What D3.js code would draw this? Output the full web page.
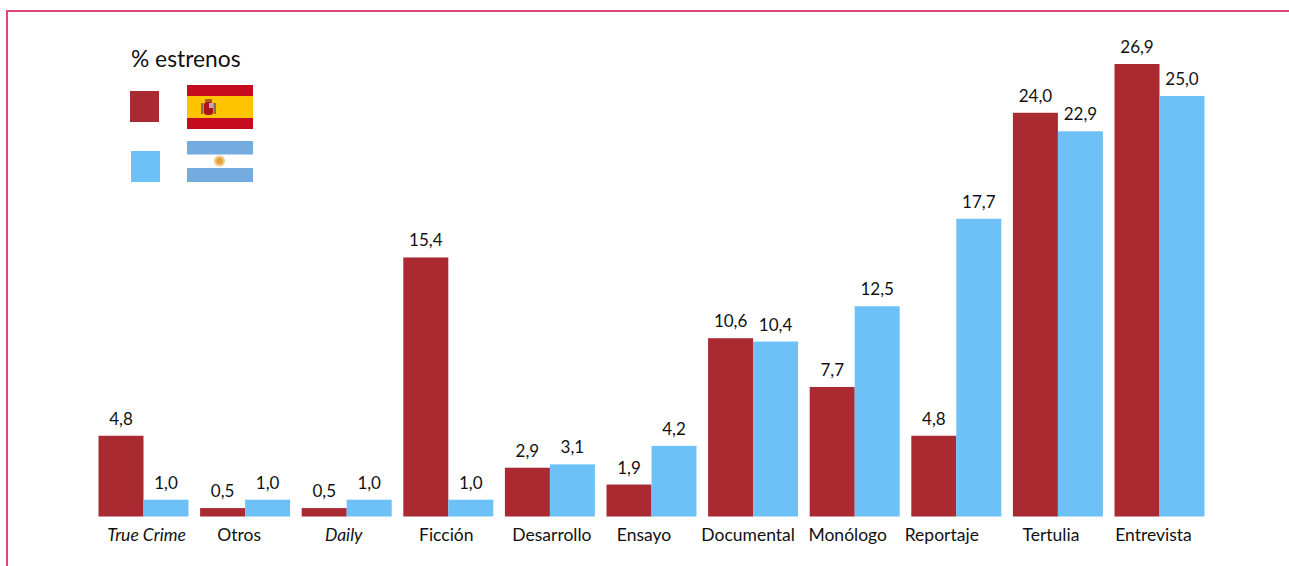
<!DOCTYPE html>
<html>
<head>
<meta charset="utf-8">
<script src="https://cdn.jsdelivr.net/npm/d3@7"></script>
<style>
  html, body { margin: 0; padding: 0; background: #fff; overflow: hidden; }
  svg { display: block; }
  text { font-family: Lato, "Open Sans", sans-serif; fill: #111; }
</style>
</head>
<body>
<svg id="chart" width="1289" height="566"></svg>
<script>
const categories = ['True Crime','Otros','Daily','Ficción','Desarrollo','Ensayo','Documental','Monólogo','Reportaje','Tertulia','Entrevista'];
const italicCats = ['True Crime','Daily'];
const spain     = [4.8,0.5,0.5,15.4,2.9,1.9,10.6,7.7,4.8,24.0,26.9];
const argentina = [1.0,1.0,1.0,1.0,3.1,4.2,10.4,12.5,17.7,22.9,25.0];
// the category labels sit a little off the group centre in the original
const labelShift = [3,-6,-3,-2,2,-7.5,-5,-7,-14.5,-7,-6];

const RED = '#a92a30', BLUE = '#6ec1f7';
const svg = d3.select('#chart');

const defs = svg.append('defs');
defs.append('filter').attr('id', 'soft').append('feGaussianBlur').attr('stdDeviation', 0.5);

// frame, open to the right and bottom of the window
svg.append('path').attr('d', 'M7,566V11H1289')
  .attr('fill', 'none').attr('stroke', '#e0457a').attr('stroke-width', 2);

const x = d3.scaleBand().domain(categories).range([98.5, 1204.5]).paddingInner(0.1142).paddingOuter(0);
const y = d3.scaleLinear().domain([0, 26.9]).range([516.5, 64]);
const bw = x.bandwidth() / 2;
const fmt = v => v.toFixed(1).replace('.', ',');

const groups = svg.selectAll('g.cat').data(categories).join('g')
  .attr('class', 'cat')
  .attr('transform', d => `translate(${x(d) + bw},0)`);

[[spain, RED, -bw], [argentina, BLUE, 0]].forEach(([vals, col, dx]) => {
  groups.append('rect')
    .attr('x', dx)
    .attr('y', (d, i) => y(vals[i]))
    .attr('width', bw)
    .attr('height', (d, i) => y(0) - y(vals[i]))
    .attr('fill', col);
  groups.append('text')
    .attr('x', dx + bw / 2)
    .attr('y', (d, i) => y(vals[i]) - 11)
    .attr('text-anchor', 'middle')
    .attr('font-size', 17)
    .text((d, i) => fmt(vals[i]));
});

groups.append('text')
  .attr('x', (d, i) => labelShift[i])
  .attr('y', 541)
  .attr('text-anchor', 'middle')
  .attr('font-size', 17.5)
  .attr('font-style', d => italicCats.includes(d) ? 'italic' : null)
  .text(d => d);

// legend
const legend = svg.append('g');
legend.append('text').attr('x', 131).attr('y', 67).attr('font-size', 22.8).text('% estrenos');
legend.append('rect').attr('x', 130).attr('y', 91).attr('width', 29).attr('height', 31).attr('fill', RED);
legend.append('rect').attr('x', 131).attr('y', 151).attr('width', 29).attr('height', 31).attr('fill', BLUE);

// flag Spain
legend.append('rect').attr('x', 187).attr('y', 85).attr('width', 66).attr('height', 44).attr('fill', '#c60b1e');
legend.append('rect').attr('x', 187).attr('y', 96).attr('width', 66).attr('height', 22).attr('fill', '#ffc400');
const crest = legend.append('g').attr('filter', 'url(#soft)');
crest.append('rect').attr('x', 204).attr('y', 102).attr('width', 9).attr('height', 13).attr('rx', 3).attr('fill', '#ad1519');
crest.append('rect').attr('x', 209).attr('y', 103).attr('width', 4).attr('height', 5).attr('fill', '#c8a0b8');
crest.append('rect').attr('x', 205).attr('y', 99).attr('width', 7).attr('height', 3).attr('fill', '#a8601c');
crest.append('rect').attr('x', 201).attr('y', 103).attr('width', 2.5).attr('height', 11).attr('fill', '#8a6a50');
crest.append('rect').attr('x', 213.5).attr('y', 103).attr('width', 2.5).attr('height', 11).attr('fill', '#8a6a50');

// flag Argentina
legend.append('rect').attr('x', 187).attr('y', 141).attr('width', 66).attr('height', 13.5).attr('fill', '#74acdf');
legend.append('rect').attr('x', 187).attr('y', 168).attr('width', 66).attr('height', 14).attr('fill', '#74acdf');
const sun = legend.append('g').attr('filter', 'url(#soft)');
sun.append('circle').attr('cx', 219.5).attr('cy', 161).attr('r', 5.5).attr('fill', '#f0c890');
sun.append('circle').attr('cx', 219.5).attr('cy', 161).attr('r', 3.2).attr('fill', '#e8a030');
</script>
</body>
</html>
